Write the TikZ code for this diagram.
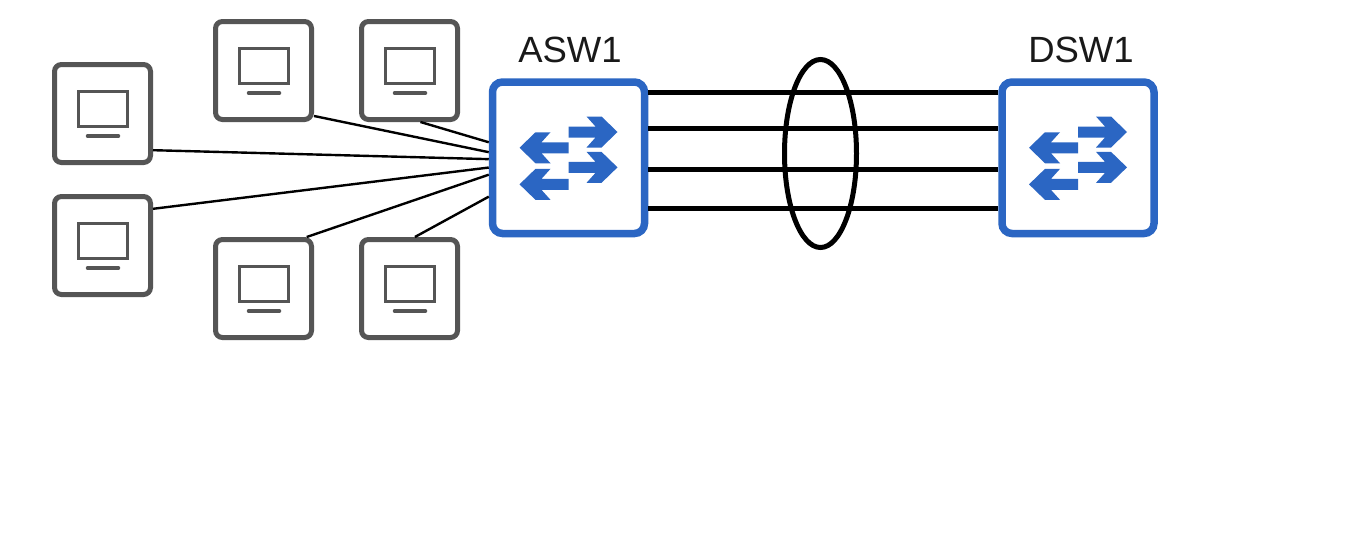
\documentclass[tikz,border=0pt]{standalone}
\usepackage{fontspec}
\setmainfont{Liberation Sans}
\usetikzlibrary{shapes.geometric}
\definecolor{swblue}{HTML}{2B66C3}
\definecolor{pcgrey}{HTML}{555555}
\tikzset{
  pcbox/.style={draw=pcgrey,line width=5pt,rounded corners=7pt,fill=white,minimum width=96pt,minimum height=98pt,inner sep=0pt},
  swbox/.style={draw=swblue,line width=7.5pt,rounded corners=10pt,fill=white,minimum width=152pt,minimum height=151.5pt,inner sep=0pt},
  lbl/.style={font=\fontsize{36.5}{42}\selectfont,text=black!90,inner sep=0pt},
  access/.style={draw=black,line width=2.4pt},
  trunk/.style={draw=black,line width=5pt},
  bundle/.style={draw=black,line width=5pt,ellipse,minimum width=72pt,minimum height=188pt,inner sep=0pt},
  pcicon/.pic={
    \draw[pcgrey,line width=3.5pt] (-24,-22) rectangle (25,13);
    \draw[pcgrey,line width=3.5pt,line cap=round] (-15,22.5) -- (16,22.5);
  },
  swicon/.pic={
    \begin{scope}[x=1pt,y=-1pt]
    \fill[swblue,shift={(0,-25.75)}] (0,-5.5) -- (27,-5.5) -- (18,-15.5) -- (33,-15.5) -- (49,0) -- (33,15.5) -- (18,15.5) -- (27,5.5) -- (0,5.5) -- cycle;
    \fill[swblue,shift={(0,9.6)}] (0,-5.5) -- (27,-5.5) -- (18,-15.5) -- (33,-15.5) -- (49,0) -- (33,15.5) -- (18,15.5) -- (27,5.5) -- (0,5.5) -- cycle;
    \fill[swblue,shift={(0,-10)}] (0,-5.5) -- (-27,-5.5) -- (-18,-15.5) -- (-33,-15.5) -- (-49,0) -- (-33,15.5) -- (-18,15.5) -- (-27,5.5) -- (0,5.5) -- cycle;
    \fill[swblue,shift={(0,26.6)}] (0,-5.5) -- (-27,-5.5) -- (-18,-15.5) -- (-33,-15.5) -- (-49,0) -- (-33,15.5) -- (-18,15.5) -- (-27,5.5) -- (0,5.5) -- cycle;
    \end{scope}
  }
}
\begin{document}
\begin{tikzpicture}[x=1pt,y=-1pt]
\useasboundingbox (0,0) rectangle (1353,544);
\fill[white] (0,0) rectangle (1353,544);
% PCs
\node[pcbox] (pc1) at (102.5,113.5) {};
\node[pcbox] (pc2) at (102.5,245.5) {};
\node[pcbox] (pc3) at (263.5,70.5) {};
\node[pcbox] (pc4) at (409.5,70.5) {};
\node[pcbox] (pc5) at (263.5,288.5) {};
\node[pcbox] (pc6) at (409.5,288.5) {};
\foreach \n in {pc1,pc2,pc3,pc4,pc5,pc6}{
  \path (\n.center) pic[x=1pt,y=-1pt] {pcicon};
}
% switches
\node[swbox] (asw) at (568.5,157.75) {};
\node[swbox] (dsw) at (1078,157.75) {};
\path (asw.center) pic {swicon};
\path (dsw.center) pic {swicon};
\node[lbl] (aswl) at (570,50) {ASW1};
\node[lbl] (dswl) at (1081,50) {DSW1};
% access links
\draw[access] (pc1.-36) -- (asw.181.6);
\draw[access] (pc2.36.5) -- (asw.187.3);
\draw[access] (pc3.-42) -- (asw.176.6);
\draw[access] (pc4.-78) -- (asw.169.5);
\draw[access] (pc5.50) -- (asw.192.9);
\draw[access] (pc6.84) -- (asw.206.9);
% trunks
\foreach \y in {92,128,169,208}{
  \draw[trunk] (asw.east |- 0,\y) -- (dsw.west |- 0,\y);
}
\node[bundle] (lag) at (820.5,153.5) {};
\end{tikzpicture}
\end{document}
